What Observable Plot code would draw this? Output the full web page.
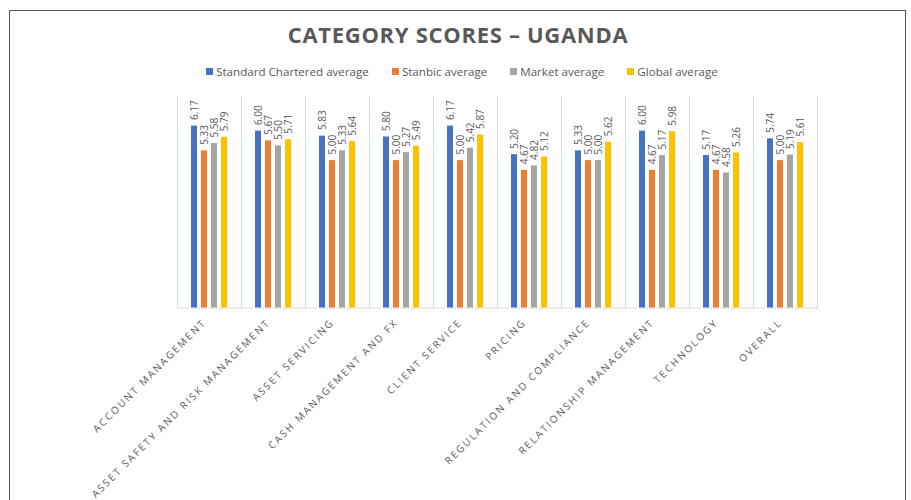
<!DOCTYPE html>
<html>
<head>
<meta charset="utf-8">
<script src="https://cdn.jsdelivr.net/npm/d3@7"></script>
<script src="https://cdn.jsdelivr.net/npm/@observablehq/plot@0.6"></script>
<style>
  html, body { margin: 0; padding: 0; background: #fff; }
  #page { position: relative; width: 911px; height: 500px; overflow: hidden; background: #fff; }
  #border { position: absolute; left: 9px; top: 10px; width: 895px; height: 600px; border: 1.5px solid #555; }
  #title { position: absolute; left: 0; top: 19px; width: 916px; text-align: center;
           font-family: "Open Sans", sans-serif; font-weight: 700; font-size: 22px; color: #595959; letter-spacing: 0.7px; }
  #legend { position: absolute; left: 0; top: 64px; width: 924px; display: flex; justify-content: center; gap: 23px;
            font-family: "Open Sans", sans-serif; font-size: 11.6px; color: #595959; }
  #legend .item { display: flex; align-items: center; gap: 3px; }
  #legend .sw { width: 7px; height: 7px; display: inline-block; }
  #chart { position: absolute; left: 0; top: 85px; }
</style>
</head>
<body>
<div id="page">
  <div id="border"></div>
  <div id="title">CATEGORY SCORES – UGANDA</div>
  <div id="legend"></div>
  <div id="chart"></div>
</div>
<script>
const categories = [
  "ACCOUNT MANAGEMENT",
  "ASSET SAFETY AND RISK MANAGEMENT",
  "ASSET SERVICING",
  "CASH MANAGEMENT AND FX",
  "CLIENT SERVICE",
  "PRICING",
  "REGULATION AND COMPLIANCE",
  "RELATIONSHIP MANAGEMENT",
  "TECHNOLOGY",
  "OVERALL"
];
const series = ["Standard Chartered average", "Stanbic average", "Market average", "Global average"];
const standardChartered = [6.17, 6.00, 5.83, 5.80, 6.17, 5.20, 5.33, 6.00, 5.17, 5.74];
const stanbic           = [5.33, 5.67, 5.00, 5.00, 5.00, 4.67, 5.00, 4.67, 4.67, 5.00];
const market            = [5.58, 5.50, 5.33, 5.27, 5.42, 4.82, 5.00, 5.17, 4.58, 5.19];
const globalAvg         = [5.79, 5.71, 5.64, 5.49, 5.87, 5.12, 5.62, 5.98, 5.26, 5.61];
const colors = ["#4472C4", "#ED7D31", "#A5A5A5", "#FFC000"];

const seriesValues = [standardChartered, stanbic, market, globalAvg];
const rows = [];
categories.forEach((c, i) => {
  series.forEach((s, j) => rows.push({category: c, series: s, value: seriesValues[j][i]}));
});

// legend
const legend = document.getElementById("legend");
series.forEach((s, j) => {
  const item = document.createElement("div");
  item.className = "item";
  const sw = document.createElement("span");
  sw.className = "sw";
  sw.style.background = colors[j];
  const lb = document.createElement("span");
  lb.textContent = s;
  item.appendChild(sw);
  item.appendChild(lb);
  legend.appendChild(item);
});

const chart = Plot.plot({
  width: 911,
  height: 415,
  marginTop: 12,
  marginBottom: 192.5,
  marginLeft: 175,
  marginRight: 93,
  style: {fontFamily: "Open Sans, sans-serif", background: "transparent"},
  fx: {domain: categories, padding: 0, label: null},
  x: {domain: series, paddingInner: 0.44, paddingOuter: 1.24, axis: null},
  y: {domain: [0, 7.14], axis: null},
  color: {domain: series, range: colors},
  marks: [
    Plot.frame({anchor: "left", stroke: "#d9d9d9"}),
    Plot.frame({anchor: "right", stroke: "#d9d9d9"}),
    Plot.frame({anchor: "bottom", stroke: "#d9d9d9"}),
    Plot.barY(rows, {fx: "category", x: "series", y: "value", fill: "series"}),
    Plot.text(rows, {
      fx: "category", x: "series", y: "value",
      text: d => d.value.toFixed(2),
      rotate: -90, textAnchor: "start", dy: -6,
      fontSize: 10, fill: "#595959"
    }),
    Plot.axisFx({anchor: "bottom", tickRotate: -45, tickSize: 0, tickPadding: 13, dx: -5, fontSize: 10, fill: "#595959", label: null})
  ]
});
chart.querySelectorAll('g[aria-label="fx-axis tick label"] text').forEach(t => { t.style.letterSpacing = "2px"; });
document.getElementById("chart").appendChild(chart);
</script>
</body>
</html>
